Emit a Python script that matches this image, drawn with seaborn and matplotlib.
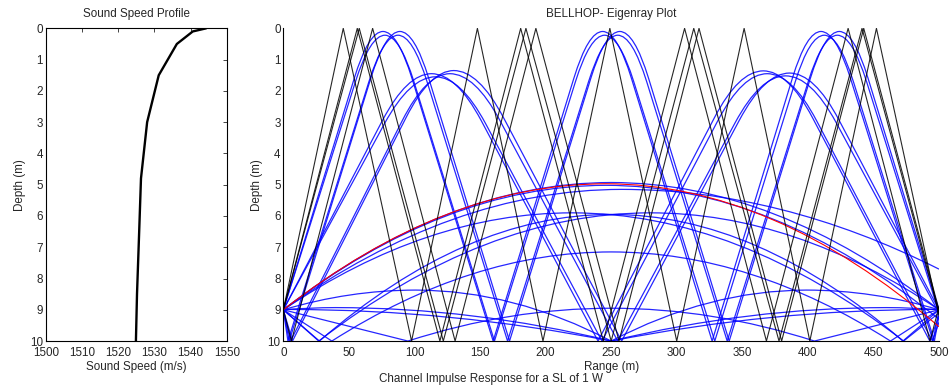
import pandas as pd
import seaborn as sns
import matplotlib.pyplot as plt
from matplotlib.path import Path
from matplotlib.patches import PathPatch

# sound speed profile
ssp_depth = [0, 0.1, 0.5, 1.5, 3, 4.8, 6.5, 8.5, 10]
ssp_speed = [1544.3, 1540.6, 1536.2, 1531.2, 1528.0, 1526.3, 1525.8, 1525.2, 1524.9]

# steep (black) eigenrays: surface / bottom bounce vertices
black_ranges = [
    [0, 45.7, 97.8, 148, 198, 249, 300, 351.4, 401.5, 452.3, 500],
    [0, 56.4, 119.4, 181, 244, 306, 368.4, 430.7, 493.2, 500],
    [0, 6.2, 68.1, 131, 192.6, 256, 317, 380, 442.6, 500],
    [0, 57.9, 122, 185, 250, 313, 378, 441.3, 500],
]
black_depths = [
    [9, 0, 10, 0, 10, 0, 10, 0, 10, 0, 9.2],
    [9, 0, 10, 0, 10, 0, 10, 0, 10, 8.9],
    [9, 10, 0, 10, 0, 10, 0, 10, 0, 9.0],
    [9, 0, 10, 0, 10, 0, 10, 0, 9.1],
]

# refracted (blue) eigenrays: start, upper turning points, bottom bounces, end
blue_ranges = [
    [0, 76, 160, 243.5, 327, 410, 495.5, 500],
    [0, 77.5, 161, 245, 329, 412.5, 496.5, 500],
    [0, 4.5, 88.9, 172.5, 256.6, 340, 424, 500],
    [0, 3.5, 87.5, 171, 255, 338.5, 422.5, 500],
    [0, 113, 240, 366, 493, 500],
    [0, 116, 243, 369, 495, 500],
    [0, 7, 130, 258, 386, 500],
    [0, 5.5, 127, 255, 383, 500],
    [0, 250, 500],
    [0, 246, 500],
    [0, 258, 500],
    [0, 27.5, 250, 472.5, 500],
    [0, 220, 473, 500],
    [0, 27, 280, 500],
    [0, 37, 250, 463, 500],
    [0, 101, 250, 399, 500],
    [0, 95, 250, 405, 500],
    [0, 40, 250, 460, 500],
    [0, 5, 250, 495, 500],
]
blue_depths = [
    [9, 0.1, 10, 0.1, 10, 0.1, 10, 9.0],
    [9, 0.22, 10, 0.22, 10, 0.22, 10, 9.2],
    [9, 10, 0.1, 10, 0.1, 10, 0.1, 9.0],
    [9, 10, 0.22, 10, 0.22, 10, 0.22, 9.1],
    [9, 1.45, 10, 1.36, 10, 9.2],
    [9, 1.55, 10, 1.45, 10, 9.4],
    [9, 10, 1.35, 10, 1.43, 9.0],
    [9, 10, 1.45, 10, 1.52, 9.1],
    [9, 4.93, 9.0],
    [9, 5.02, 9.3],
    [9, 5.15, 7.7],
    [9, 10, 5.95, 10, 9.0],
    [9, 5.9, 10, 9.1],
    [9, 10, 5.9, 9.0],
    [9, 10, 7.15, 10, 9.0],
    [9, 8.37, 10, 8.37, 9.0],
    [9, 10, 8.95, 10, 9.0],
    [9, 8.93, 10, 8.93, 9.0],
    [9, 8.99, 10, 8.99, 9.0],
]

red_range = [0, 246, 500]
red_depth = [9, 4.97, 9.54]

BEND = 1.5  # depth band under a shallow turning point where the ray bends


def bend(p, a):
    # knee and control point of the rounded top between point p and apex a
    span, drop = a[0] - p[0], p[1] - a[1]
    u = 2 * BEND * span / (drop + BEND)
    return (a[0] - u, a[1] + BEND), (a[0] - u / 2, a[1])


def ray_path(r, z):
    pts = list(zip(r, z))
    last = len(pts) - 1
    is_apex = [0 < i < last and 0 < pts[i][1] < 10 for i in range(len(pts))]
    verts, codes = [pts[0]], [Path.MOVETO]
    for i in range(1, len(pts)):
        p0, p1 = pts[i - 1], pts[i]
        if is_apex[i] or is_apex[i - 1]:
            a, p = (p1, p0) if is_apex[i] else (p0, p1)
            if a[1] < 3 and p[1] - a[1] > BEND:
                knee, ctrl = bend(p, a)
                if is_apex[i]:
                    verts += [knee, ctrl, a]
                    codes += [Path.LINETO, Path.CURVE3, Path.CURVE3]
                else:
                    verts += [ctrl, knee, p]
                    codes += [Path.CURVE3, Path.CURVE3, Path.LINETO]
            else:
                verts += [((p0[0] + p1[0]) / 2, a[1]), p1]
                codes += [Path.CURVE3, Path.CURVE3]
        else:
            verts.append(p1)
            codes.append(Path.LINETO)
    return Path(verts, codes)


sns.set_style('white')
plt.rcParams['font.family'] = ['Liberation Sans', 'DejaVu Sans']
plt.rcParams['font.size'] = 8.4

fig = plt.figure(figsize=(9.53, 3.88), dpi=100)
ax1 = fig.add_axes([0.048, 0.121, 0.190, 0.806])
ax2 = fig.add_axes([0.2973, 0.121, 0.688, 0.806])

# left panel: sound speed profile
sns.lineplot(x=ssp_speed, y=ssp_depth, sort=False, estimator=None,
             color='black', linewidth=1.7, ax=ax1)
ax1.set_xlim(1500, 1550)
ax1.set_ylim(10, 0)
ax1.set_xticks(range(1500, 1551, 10))
ax1.set_yticks(range(0, 11))
ax1.set_xlabel('Sound Speed (m/s)', labelpad=1)
ax1.set_ylabel('Depth (m)', labelpad=3)
ax1.set_title('Sound Speed Profile', fontsize=8.4, pad=8)
ax1.tick_params(direction='in', top=True, right=True, length=3, pad=2,
                labelsize=8.4, width=0.6)
ax1.tick_params(axis='x', pad=4.5)
for s in ax1.spines.values():
    s.set_linewidth(0.8)
    s.set_color('black')

# right panel: eigenrays
rows = []
for k, (rr, zz) in enumerate(zip(black_ranges, black_depths)):
    for r, z in zip(rr, zz):
        rows.append({'range': r, 'depth': z, 'ray': k})
df_black = pd.DataFrame(rows)
sns.lineplot(data=df_black, x='range', y='depth', units='ray', estimator=None,
             sort=False, color='black', linewidth=0.8, alpha=0.85, ax=ax2)

for rr, zz in zip(blue_ranges, blue_depths):
    ax2.add_patch(PathPatch(ray_path(rr, zz), fill=False, edgecolor='#0000ff',
                            linewidth=0.9, alpha=0.85))
ax2.add_patch(PathPatch(ray_path(red_range, red_depth), fill=False,
                        edgecolor='#ff0000', linewidth=0.8))

ax2.set_xlim(0, 500)
ax2.set_ylim(10, 0)
ax2.set_xticks(range(0, 501, 50))
ax2.set_yticks(range(0, 11))
ax2.set_xlabel('Range (m)', labelpad=1)
ax2.set_ylabel('Depth (m)', labelpad=3)
ax2.set_title('BELLHOP- Eigenray Plot', fontsize=8.4, pad=8)
ax2.tick_params(direction='in', length=3, pad=2, labelsize=8.4, width=0.6)
ax2.tick_params(axis='x', pad=4.5)
sns.despine(ax=ax2)
for s in ax2.spines.values():
    s.set_linewidth(0.8)
    s.set_color('black')

fig.text(491 / 953, 1 - 379 / 388, 'Channel Impulse Response for a SL of 1 W',
         ha='center', va='center', fontsize=8.4)

fig.savefig('out.png', dpi=100)
